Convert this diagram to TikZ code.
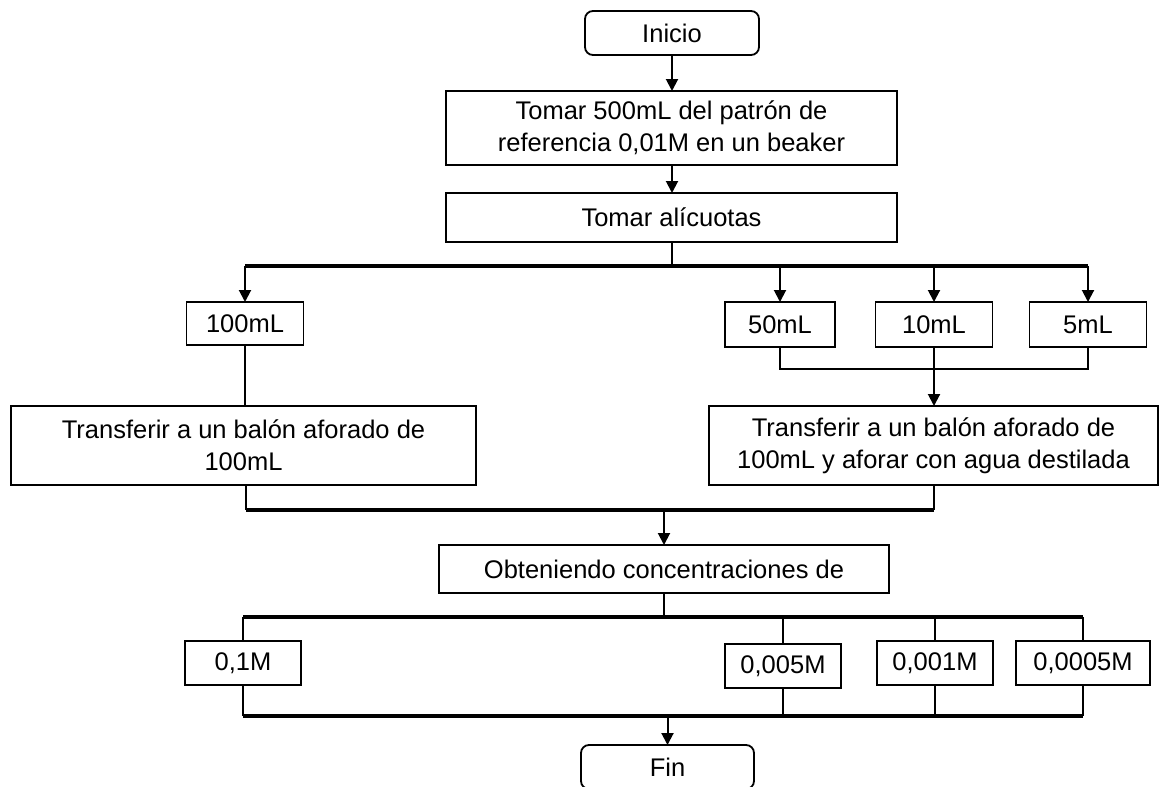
\documentclass[tikz,border=0pt]{standalone}
\usepackage{fontspec}
\setmainfont{Liberation Sans}
\usetikzlibrary{arrows.meta}
\begin{document}
\begin{tikzpicture}[x=1pt,y=-1pt,
  box/.style={draw,line width=1.8pt,inner sep=0pt,outer sep=0pt,align=center,
    font=\fontsize{25.5}{32}\selectfont},
  term/.style={box,rounded corners=8pt},
  conn/.style={line width=2pt},
  bus/.style={line width=3.2pt},
  arr/.style={line width=2pt,-{Triangle[length=12pt,width=12pt]}}]
\useasboundingbox[fill=white] (0,0) rectangle (1160,787);

\node[term,minimum width=174pt,minimum height=44pt] (inicio) at (672,33) {Inicio};
\node[box,minimum width=451pt,minimum height=74pt] (tomar) at (671.5,128) {Tomar 500mL del patrón de\\referencia 0,01M en un beaker};
\node[box,minimum width=451pt,minimum height=49pt] (alic) at (671.5,217.5) {Tomar alícuotas};
\node[box,minimum width=117pt,minimum height=43pt] (m100) at (245,323.5) {100mL};
\node[box,minimum width=110pt,minimum height=45pt] (m50) at (780,324.5) {50mL};
\node[box,minimum width=117pt,minimum height=45pt] (m10) at (934,324.5) {10mL};
\node[box,minimum width=117pt,minimum height=45pt] (m5) at (1088,324.5) {5mL};
\node[box,minimum width=465pt,minimum height=79pt] (trL) at (243.5,445.5) {Transferir a un balón aforado de\\100mL};
\node[box,minimum width=449pt,minimum height=79pt] (trR) at (933.5,445.5) {Transferir a un balón aforado de\\100mL y aforar con agua destilada};
\node[box,minimum width=450pt,minimum height=48pt] (obt) at (664,569) {Obteniendo concentraciones de};
\node[box,minimum width=116pt,minimum height=44pt] (c1) at (243,663) {0,1M};
\node[box,minimum width=116pt,minimum height=44pt] (c2) at (783,666) {0,005M};
\node[box,minimum width=116pt,minimum height=44pt] (c3) at (935,663) {0,001M};
\node[box,minimum width=134pt,minimum height=44pt] (c4) at (1083,663) {0,0005M};
\node[term,minimum width=173pt,minimum height=44pt] (fin) at (667.5,767) {Fin};

% top
\draw[arr] (inicio.south) -- (tomar.north -| inicio.south);
\draw[arr] (tomar.south -| inicio.south) -- (alic.north -| inicio.south);

% branch 1
\coordinate (b1) at (0,266);
\draw[conn] (alic.south) -- (alic.south |- b1);
\draw[bus] (m100.north |- b1) -- (m5.north |- b1);
\draw[arr] (m100.north |- b1) -- (m100.north);
\draw[arr] (m50.north |- b1) -- (m50.north);
\draw[arr] (m10.north |- b1) -- (m10.north);
\draw[arr] (m5.north |- b1) -- (m5.north);

% merge right
\coordinate (b2) at (0,369);
\draw[conn] (m50.south) -- (m50.south |- b2) -- (m5.south |- b2) -- (m5.south);
\draw[conn] (m10.south) -- (m10.south |- b2);
\draw[arr] (m10.south |- b2) -- (trR.north -| m10.south);
\draw[conn] (m100.south) -- (trL.north -| m100.south);

% merge transfer
\coordinate (b3) at (0,510);
\coordinate (xL) at (246,0);
\coordinate (xR) at (934,0);
\draw[conn] (trL.south -| xL) -- (xL |- b3);
\draw[conn] (trR.south -| xR) -- (xR |- b3);
\draw[bus] (xL |- b3) -- (xR |- b3);
\draw[arr] (obt.north |- b3) -- (obt.north);

% branch 2
\coordinate (b4) at (0,617);
\draw[conn] (obt.south) -- (obt.south |- b4);
\draw[bus] (c1.north |- b4) -- (c4.north |- b4);
\draw[conn] (c1.north |- b4) -- (c1.north);
\draw[conn] (c2.north |- b4) -- (c2.north);
\draw[conn] (c3.north |- b4) -- (c3.north);
\draw[conn] (c4.north |- b4) -- (c4.north);

% merge 2
\coordinate (b5) at (0,716);
\draw[conn] (c1.south) -- (c1.south |- b5);
\draw[conn] (c2.south) -- (c2.south |- b5);
\draw[conn] (c3.south) -- (c3.south |- b5);
\draw[conn] (c4.south) -- (c4.south |- b5);
\draw[bus] (c1.south |- b5) -- (c4.south |- b5);
\draw[arr] (fin.north |- b5) -- (fin.north);
\end{tikzpicture}
\end{document}
